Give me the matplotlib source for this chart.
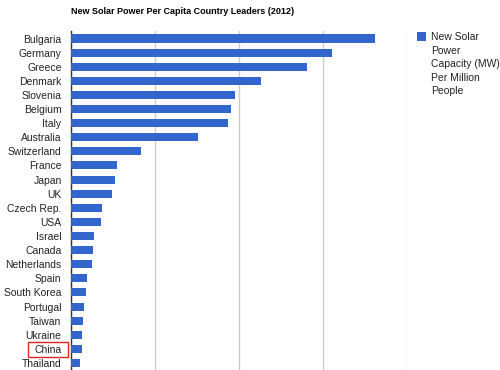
import matplotlib.pyplot as plt
from matplotlib.patches import Rectangle
from matplotlib.ticker import MultipleLocator

plt.rcParams['font.family'] = ['Liberation Sans', 'DejaVu Sans']

# data (MW per million people)
countries = ["Bulgaria", "Germany", "Greece", "Denmark", "Slovenia", "Belgium",
             "Italy", "Australia", "Switzerland", "France", "Japan", "UK",
             "Czech Rep.", "USA", "Israel", "Canada", "Netherlands", "Spain",
             "South Korea", "Portugal", "Taiwan", "Ukraine", "China", "Thailand"]
capacity = [108.8, 93.4, 84.4, 68.0, 58.5, 57.3, 56.1, 45.2, 25.1, 16.3, 15.7, 14.5,
            11.1, 10.5, 8.0, 7.6, 7.3, 5.7, 5.1, 4.5, 4.3, 3.9, 3.7, 3.1]
series_name = "New Solar"
series_rest = "Power\nCapacity (MW)\nPer Million\nPeople"
highlight = "China"

fig = plt.figure(figsize=(5, 3.7), dpi=100)
ax = fig.add_axes([0.1426, 0.0, 0.6708, 0.915])

pos = list(range(len(countries)))
ax.barh(pos, capacity, height=0.57, color="#3366cc", label=series_name, zorder=3)

ax.set_xlim(0, 120)
ax.set_ylim(len(countries) - 0.5, -0.5)
ax.xaxis.set_major_locator(MultipleLocator(30))
ax.grid(axis="x", color="#cccccc", linewidth=1, zorder=0)
ax.tick_params(axis="x", length=0, labelbottom=False)
ax.tick_params(axis="y", length=0, pad=7, labelsize=7.5, labelcolor="#222222")
ax.set_yticks(pos)
ax.set_yticklabels(countries)

for s in ["top", "right", "bottom"]:
    ax.spines[s].set_visible(False)
ax.spines["left"].set_color("#333333")
ax.spines["left"].set_linewidth(1)

fig.text(0.1426, 0.97, "New Solar Power Per Capita Country Leaders (2012)",
         fontsize=6.5, fontweight="bold", va="center", ha="left", color="#000000")

leg = ax.legend(loc="upper left", bbox_to_anchor=(0.834, 0.913), bbox_transform=fig.transFigure,
                frameon=False, fontsize=7.5, handlelength=0.9, handleheight=0.9,
                handletextpad=0.4, borderpad=0, borderaxespad=0)
for t in leg.get_texts():
    t.set_color("#222222")
fig.text(0.862, 0.876, series_rest, fontsize=7.5, va="top", ha="left",
         linespacing=1.42, color="#222222")

# red box around the highlighted country label
fig.canvas.draw()
renderer = fig.canvas.get_renderer()
for lbl in ax.get_yticklabels():
    if lbl.get_text() == highlight:
        bb = lbl.get_window_extent(renderer)
        yc = (bb.y0 + bb.y1) / 2
        box = Rectangle((bb.x0 - 6, yc - 7.5), bb.width + 12, 15, transform=None,
                        fill=False, ec="#dd2222", lw=1)
        fig.patches.append(box)

fig.savefig("out.png", dpi=100)
